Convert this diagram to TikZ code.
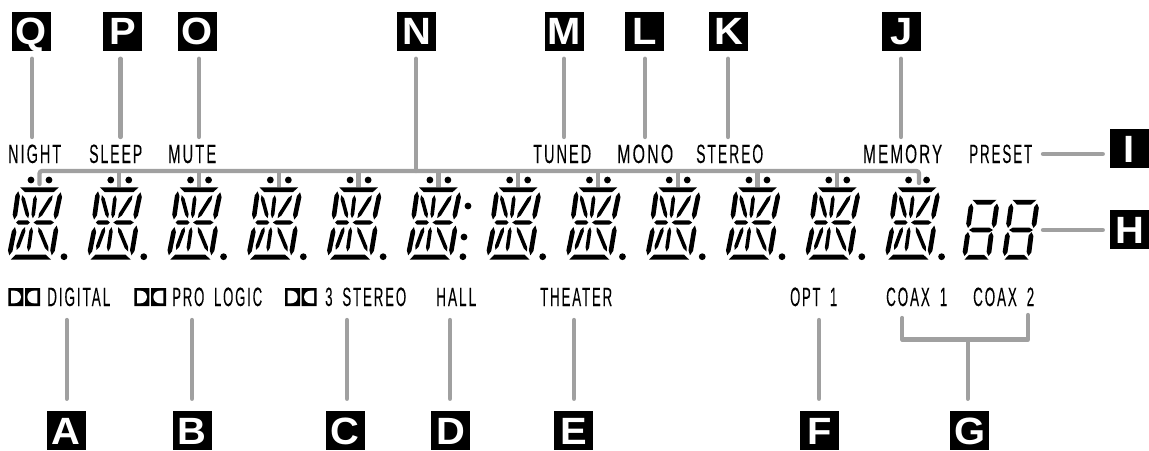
\documentclass[tikz,border=0pt]{standalone}
\usepackage{fontspec}
\usepackage{graphicx}
\usetikzlibrary{calc}
\setmainfont{Liberation Sans}[FakeStretch=0.5,LetterSpace=7,FakeBold=0.1]
\newfontfamily\boxfont{Liberation Sans}[FakeStretch=1.05]
\definecolor{conn}{HTML}{A0A0A0}
\tikzset{
  lbox/.style={fill=black,text=white,minimum size=39pt,inner sep=0pt,font=\boxfont\bfseries\fontsize{38}{38}\selectfont,text height=27pt,text depth=0pt,align=center},
  lbl/.style={anchor=base west,inner sep=0pt,font=\fontsize{26.5}{26.5}\selectfont,text=black},
  wire/.style={draw=conn,line width=4.3pt,line cap=round,line join=round},
}
\newcommand{\fitw}[2]{\resizebox{#1pt}{\height}{#2}}
\newcommand{\tseg}[5]{%
  \fill[black] (#1,#2) coordinate (sa) -- ($(sa)!.16!(#3,#4)!#5!90:(#3,#4)$) -- ($(sa)!.84!(#3,#4)!#5!90:(#3,#4)$) -- (#3,#4)
   -- ($(sa)!.84!(#3,#4)!#5!-90:(#3,#4)$) -- ($(sa)!.16!(#3,#4)!#5!-90:(#3,#4)$) -- cycle;}
\newcommand{\dolby}[1]{%
  \begin{scope}[shift={(#1,288)}]
    \fill[black] (0,0) rectangle (15,18) (16.7,0) rectangle (31.7,18);
    \fill[white] (2.7,2.6) -- (5.5,2.6) .. controls (10,2.6) and (12.6,5.5) .. (12.6,9) .. controls (12.6,12.5) and (10,15.4) .. (5.5,15.4) -- (2.7,15.4) -- cycle;
    \fill[white] (29,2.6) -- (26.2,2.6) .. controls (21.7,2.6) and (19.1,5.5) .. (19.1,9) .. controls (19.1,12.5) and (21.7,15.4) .. (26.2,15.4) -- (29,15.4) -- cycle;
  \end{scope}}
\begin{document}
\begin{tikzpicture}[x=1pt,y=-1pt]
\useasboundingbox (0,0) rectangle (1149,450);
% alphanumeric digits
\foreach \i in {0,...,11}{
  \begin{scope}[shift={({79.78*\i},0)}]
    \fill[black] (31,180) circle (3.4) (49,180) circle (3.4) (64,256.7) circle (3.4);
    \fill[black] (20.2,187.4) -- (58.8,187.4) -- (53.5,192.2) -- (25,192.2) -- cycle;
    \fill[black] (10.8,259.6) -- (50.9,259.6) -- (45.7,254.6) -- (15.7,254.6) -- cycle;
    \tseg{18.3}{191.3}{14.3}{219.5}{2.3pt}
    \tseg{22.2}{195.2}{28.3}{218.2}{1.8pt}
    \tseg{35.5}{195.2}{32.8}{218.2}{1.8pt}
    \tseg{52.7}{195.2}{38.3}{218.2}{1.8pt}
    \tseg{60.7}{192.3}{55}{219.5}{2.3pt}
    \tseg{15}{227.1}{9.3}{255.3}{2.3pt}
    \tseg{25}{227.1}{16.7}{249.8}{1.8pt}
    \tseg{31.7}{227.1}{28.3}{251.5}{1.8pt}
    \tseg{38.3}{227.1}{48.3}{251.5}{1.8pt}
    \tseg{56.7}{225.5}{51.7}{255.3}{2.3pt}
    \tseg{16}{222.5}{30}{222.5}{2.2pt}
    \tseg{33.5}{222.5}{54}{222.5}{2.2pt}
  \end{scope}
}
% colon
\fill[black] (468,206) circle (3.4) (464,237) circle (3.4);
% seven-segment digits
\foreach \i in {0,1}{
  \begin{scope}[shift={({40*\i},0)}]
    \fill[black] (972.5,199.8) -- (996.5,199.8) -- (991,204.6) -- (977,204.6) -- cycle;
    \fill[black] (964.5,259.6) -- (988.5,259.6) -- (984,254.8) -- (969,254.8) -- cycle;
    \tseg{971.5}{203.5}{968}{228}{2.4pt}
    \tseg{997}{203.5}{993.5}{228}{2.4pt}
    \tseg{968}{232}{964.5}{256}{2.4pt}
    \tseg{991.5}{232}{988.5}{256}{2.4pt}
    \tseg{969}{230}{993}{230}{2.4pt}
  \end{scope}
}
% top labels
\node[lbl] (night) at (8,163) {\fitw{53}{NIGHT}};
\node[lbl] (sleep) at (89,163) {\fitw{53}{SLEEP}};
\node[lbl] (mute) at (168,163) {\fitw{48}{MUTE}};
\node[lbl] (tuned) at (533,163) {\fitw{58}{TUNED}};
\node[lbl] (mono) at (617,163) {\fitw{56}{MONO}};
\node[lbl] (stereo) at (696,163) {\fitw{67}{STEREO}};
\node[lbl] (memory) at (863,163) {\fitw{79}{MEMORY}};
\node[lbl] (preset) at (969,163) {\fitw{63}{PRESET}};
% bottom labels
\dolby{8.3}
\dolby{134.3}
\dolby{285}
\node[lbl] (digital) at (47,306) {\fitw{63}{DIGITAL}};
\node[lbl] (prologic) at (172,306) {\fitw{90}{PRO\hspace{.16em} LOGIC}};
\node[lbl] (stereo3) at (325,306) {\fitw{81}{3\hspace{.16em} STEREO}};
\node[lbl] (hall) at (436,306) {\fitw{40}{HALL}};
\node[lbl] (theater) at (540,306) {\fitw{72}{THEATER}};
\node[lbl] (opt) at (790,306) {\fitw{47}{OPT\hspace{.16em} 1}};
\node[lbl] (coaxa) at (886,306) {\fitw{61}{COAX\hspace{.16em} 1}};
\node[lbl] (coaxb) at (973,306) {\fitw{61}{COAX\hspace{.16em} 2}};
% letter boxes
\node[lbox] (Q) at (31.5,31) {Q};
\node[lbox] (P) at (122.5,31) {P};
\node[lbox] (O) at (197,31) {O};
\node[lbox] (N) at (416.5,31) {N};
\node[lbox] (M) at (564.5,31) {M};
\node[lbox] (L) at (644.5,31) {L};
\node[lbox] (K) at (728.5,31) {K};
\node[lbox] (J) at (901.5,31) {J};
\node[lbox] (I) at (1129.5,148.5) {I};
\node[lbox] (H) at (1129.5,229.5) {H};
\node[lbox] (A) at (66,430.5) {A};
\node[lbox] (B) at (192.3,430.5) {B};
\node[lbox] (C) at (345,430.5) {C};
\node[lbox] (D) at (450.5,430.5) {D};
\node[lbox] (E) at (573.5,430.5) {E};
\node[lbox] (F) at (819.5,430.5) {F};
\node[lbox] (G) at (969.7,430.5) {G};
% connector free ends
\coordinate (qe) at (32,137);
\coordinate (pe) at (120.5,137);
\coordinate (oe) at (199,137);
\coordinate (me) at (564,137);
\coordinate (le) at (645,137);
\coordinate (ke) at (728,137);
\coordinate (je) at (901,137);
\coordinate (ne) at (416,171);
\coordinate (ie) at (1043,154);
\coordinate (he) at (1043,230);
\coordinate (ae) at (66.7,320);
\coordinate (be) at (192,320);
\coordinate (ce) at (347,320);
\coordinate (de) at (450,320);
\coordinate (ee) at (574,320);
\coordinate (fe) at (819,320);
\coordinate (gj) at (967.7,339.5);
\coordinate (gl) at (902.3,318);
\coordinate (gr) at (1028,315);
\coordinate (b0) at (39.5,184);
\coordinate (b11) at (919,183);
% connectors
\foreach \b/\e in {Q/qe,P/pe,O/oe,M/me,L/le,K/ke,J/je,N/ne}{
  \draw[wire,shorten <=8pt] (\b.south -| \e) -- (\e);
}
\foreach \b/\e in {A/ae,B/be,C/ce,D/de,E/ee,F/fe,G/gj}{
  \draw[wire,shorten <=12pt] (\b.north -| \e) -- (\e);
}
\foreach \b/\e in {I/ie,H/he}{
  \draw[wire,shorten <=7pt] (\b.west |- \e) -- (\e);
}
\draw[wire] (gl) |- (gj) -| (gr);
\draw[wire,rounded corners=2.5pt] (b0) |- (ne) -| (b11);
\foreach \i in {1,...,10}{
  \draw[wire,line cap=butt] ({39.5+79.78*\i},171) -- ++(0,15.5);
}
\end{tikzpicture}
\end{document}
